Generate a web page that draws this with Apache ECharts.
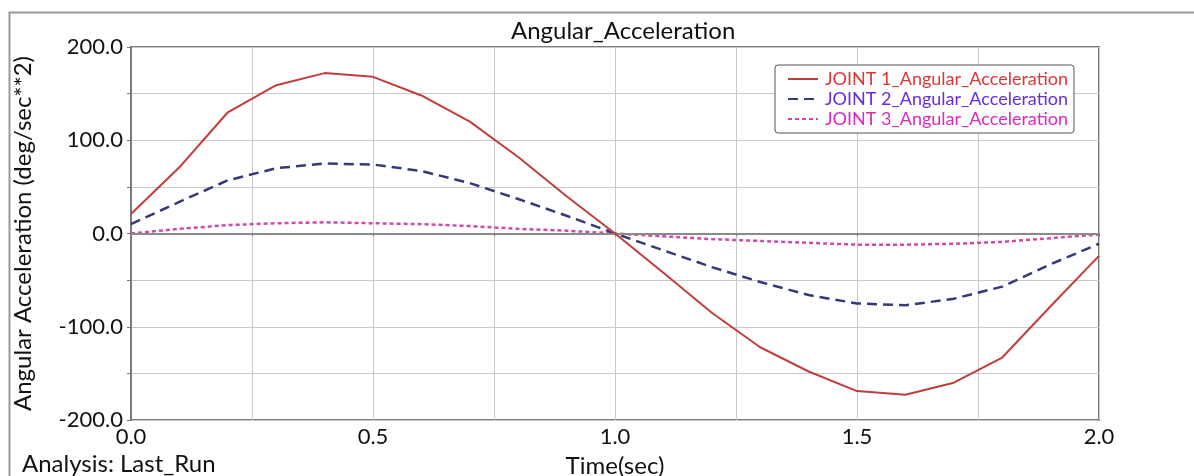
<!DOCTYPE html>
<html>
<head>
<meta charset="utf-8">
<script src="https://cdn.jsdelivr.net/npm/echarts@6/dist/echarts.min.js"></script>
<style>
  html, body { margin: 0; padding: 0; background: #fff; }
  #chart { width: 1194px; height: 476px; }
</style>
</head>
<body>
<div id="chart"></div>
<script>
// time samples (sec)
var times = [0.0, 0.1, 0.2, 0.3, 0.4, 0.5, 0.6, 0.7, 0.8, 0.9, 1.0,
             1.1, 1.2, 1.3, 1.4, 1.5, 1.6, 1.7, 1.8, 1.9, 2.0];
// angular acceleration (deg/sec**2)
var joint1 = [21, 71, 130, 159, 172, 168, 148, 120, 82, 40, 0,
              -42, -85, -122, -148, -169, -173, -160, -133, -78, -24];
var joint2 = [10, 34, 57, 70, 75, 74, 67, 54, 37, 19, 0,
              -18, -36, -52, -66, -75, -77, -70, -57, -33, -11];
var joint3 = [0, 5, 9, 11, 12, 11, 10, 8, 5, 3, 0,
              -3, -6, -8, -10, -12, -12, -11, -9, -5, -1];
var seriesNames = ['JOINT 1_Angular_Acceleration', 'JOINT 2_Angular_Acceleration', 'JOINT 3_Angular_Acceleration'];

function pairs(vals) {
  return times.map(function (t, i) { return [t, vals[i]]; });
}

var FONT = 'Lato';
var chart = echarts.init(document.getElementById('chart'));

chart.setOption({
  animation: false,
  backgroundColor: '#fff',
  title: {
    text: 'Angular_Acceleration',
    left: 506,
    top: 14,
    textStyle: { fontFamily: FONT, fontSize: 24, fontWeight: 'normal', color: '#111' }
  },
  legend: {
    orient: 'vertical',
    left: 775,
    top: 65,
    padding: [5, 6, 5, 12],
    itemGap: 2,
    itemWidth: 30,
    itemHeight: 12,
    backgroundColor: '#fff',
    borderColor: '#555',
    borderWidth: 1,
    borderRadius: 3,
    itemStyle: { opacity: 0 },
    textStyle: { fontFamily: FONT, fontSize: 18, padding: [0, 0, 0, 2] },
    data: [
      { name: seriesNames[0], textStyle: { color: '#e03535' } },
      { name: seriesNames[1], textStyle: { color: '#6a2be0' } },
      { name: seriesNames[2], textStyle: { color: '#e025c0' } }
    ]
  },
  grid: {
    left: 131, right: 95, top: 47, bottom: 56,
    outerBoundsMode: 'none',
    show: true,
    borderColor: '#7a7a7a',
    borderWidth: 2
  },
  xAxis: {
    type: 'value',
    min: 0, max: 2, interval: 0.25,
    name: 'Time(sec)',
    nameLocation: 'middle',
    nameGap: 34,
    nameTextStyle: { fontFamily: FONT, fontSize: 24, color: '#111' },
    axisLine: { show: true, lineStyle: { color: '#7a7a7a', width: 2 } },
    axisTick: { show: true, length: 3, lineStyle: { color: '#777' } },
    axisLabel: {
      fontFamily: FONT, fontSize: 22, color: '#111', margin: 6,
      formatter: function (v) { return Math.abs(v * 2 - Math.round(v * 2)) < 1e-6 ? v.toFixed(1) : ''; }
    },
    splitLine: { show: true, lineStyle: { color: '#c9c9c9', width: 1 } }
  },
  yAxis: {
    type: 'value',
    min: -200, max: 200, interval: 50,
    name: 'Angular Acceleration (deg/sec**2)',
    nameLocation: 'middle',
    nameGap: 96,
    nameTextStyle: { fontFamily: FONT, fontSize: 24, color: '#111' },
    axisLine: { show: true, lineStyle: { color: '#7a7a7a', width: 2 } },
    axisTick: { show: true, length: 4, lineStyle: { color: '#777' } },
    axisLabel: {
      fontFamily: FONT, fontSize: 22, color: '#111', margin: 8,
      formatter: function (v) { return v % 100 === 0 ? v.toFixed(1) : ''; }
    },
    splitLine: { show: true, lineStyle: { color: '#c9c9c9', width: 1 } }
  },
  graphic: [
    {
      type: 'rect', left: 7, top: 10, z: -10,
      shape: { width: 1300, height: 500 },
      style: { fill: 'none', stroke: '#9a9a9a', lineWidth: 2 }
    },
    {
      type: 'text', left: 22, top: 452,
      style: { text: 'Analysis: Last_Run', fontFamily: FONT, fontSize: 24, fill: '#111' }
    }
  ],
  series: [
    {
      name: seriesNames[0], type: 'line', data: pairs(joint1),
      symbol: 'none', z: 5,
      lineStyle: { color: '#c23c3c', width: 2, type: 'solid' },
      itemStyle: { color: '#c23c3c' },
      markLine: {
        silent: true, symbol: 'none', label: { show: false },
        lineStyle: { color: '#8a8a8a', width: 2, type: 'solid' },
        data: [{ yAxis: 0 }]
      }
    },
    {
      name: seriesNames[1], type: 'line', data: pairs(joint2),
      symbol: 'none', z: 4,
      lineStyle: { color: '#343a78', width: 2.5, type: [10, 6] },
      itemStyle: { color: '#343a78' }
    },
    {
      name: seriesNames[2], type: 'line', data: pairs(joint3),
      symbol: 'none', z: 3,
      lineStyle: { color: '#cf4aa8', width: 2.5, type: [4, 3] },
      itemStyle: { color: '#cf4aa8' }
    }
  ]
});
</script>
</body>
</html>
